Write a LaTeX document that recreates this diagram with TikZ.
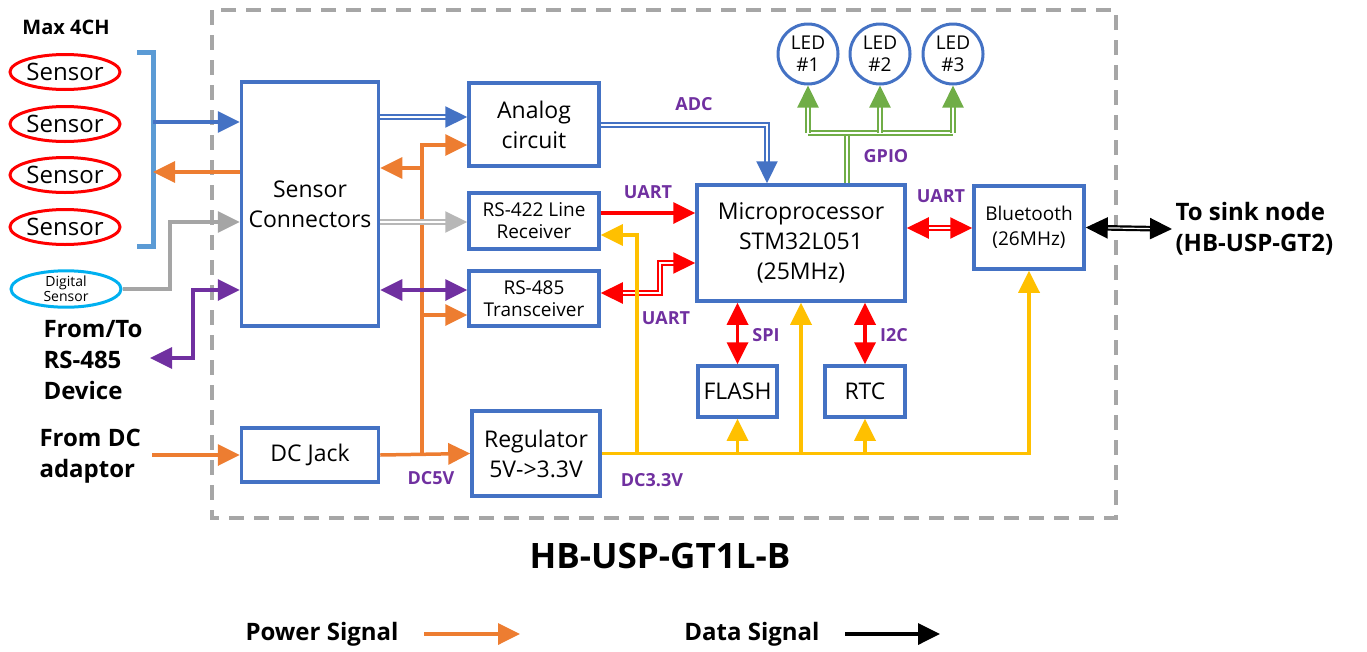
\documentclass[tikz,border=0pt]{standalone}
\usepackage{fontspec}
\setmainfont{Open Sans}
\usetikzlibrary{arrows.meta,shapes.geometric}

\definecolor{boxblue}{HTML}{4472C4}
\definecolor{brkblue}{HTML}{5B9BD5}
\definecolor{pwrorange}{HTML}{ED7D31}
\definecolor{pwryellow}{HTML}{FFC000}
\definecolor{gpiogreen}{HTML}{70AD47}
\definecolor{sigpurple}{HTML}{7030A0}
\definecolor{diggray}{HTML}{A5A5A5}
\definecolor{digcyan}{HTML}{00B0F0}
\definecolor{framegray}{HTML}{A6A6A6}

\newcommand{\fsz}[2]{\fontsize{#1}{#2}\selectfont}

\tikzset{
  blk/.style={draw=boxblue,line width=3.5pt,fill=white,align=center,inner sep=0pt,font=\fsz{23}{30}},
  sens/.style={draw=red,ellipse,line width=3pt,inner sep=0pt,minimum width=110pt,minimum height=35pt,font=\fsz{24}{28}},
  led/.style={draw=boxblue,circle,line width=3pt,inner sep=0pt,minimum size=60pt,align=center,font=\fsz{19}{22}},
  lbl/.style={text=sigpurple,font=\bfseries\fsz{18}{22}},
  txt/.style={align=left,font=\bfseries\fsz{24}{31}},
  wire/.style={line width=3.5pt},
  dbl/.style={double,double distance=1.2pt,line width=2.2pt},
  arr/.style={-{Triangle[length=22pt,width=21pt]}},
  darr/.style={{Triangle[length=22pt,width=21pt]}-{Triangle[length=22pt,width=21pt]}}
}

\begin{document}
\begin{tikzpicture}[x=1pt,y=-1pt]
\useasboundingbox (0,0) rectangle (1367,651);

% board outline
\draw[framegray,line width=3.5pt,dash pattern=on 15pt off 10pt] (212,10) rectangle (1116,518);

% sensors
\node[font=\bfseries\fsz{20}{24}] (maxch) at (66,27) {Max 4CH};
\foreach \y [count=\i] in {72,124,175,227}
  \node[sens] (s\i) at (65,\y) {Sensor};
\node[sens,draw=digcyan,align=center,font=\fsz{14}{15}] (dig) at (66,289) {Digital\\Sensor};
\draw[brkblue,line width=5pt] (137,52) -- (153,52) -- (153,246) -- (137,246);
\coordinate (brkin) at (153,122);
\coordinate (brkout) at (153,172);

% blocks
\node[blk,minimum width=137pt,minimum height=244pt] (con) at (310,204) {Sensor\\Connectors};
\node[blk,minimum width=130pt,minimum height=83pt] (analog) at (534,124.5) {Analog\\circuit};
\node[blk,minimum width=130pt,minimum height=56pt,font=\fsz{19}{22}] (rxa) at (534,221) {RS-422 Line\\Receiver};
\node[blk,minimum width=130pt,minimum height=55pt,font=\fsz{19}{22}] (trx) at (534,298.5) {RS-485\\Transceiver};
\node[blk,minimum width=208pt,minimum height=116pt] (mcu) at (801,243) {Microprocessor\\STM32L051\\(25MHz)};
\node[blk,minimum width=110pt,minimum height=83pt,font=\fsz{19}{25}] (bt) at (1029,227.5) {Bluetooth\\(26MHz)};
\node[blk,minimum width=79pt,minimum height=51pt] (flash) at (737.5,391.5) {FLASH};
\node[blk,minimum width=80pt,minimum height=51pt] (rtc) at (865,391.5) {RTC};
\node[blk,minimum width=137pt,minimum height=54pt] (jack) at (310,455) {DC Jack};
\node[blk,minimum width=128pt,minimum height=85pt] (reg) at (536,453.5) {Regulator\\5V->3.3V};
\foreach \x [count=\i] in {808,880,953}
  \node[led] (led\i) at (\x,54) {LED\\\#\i};

% outside texts
\node[txt,anchor=west] (rsdev) at (40,360) {From/To\\RS-485\\Device};
\node[txt,anchor=west] (dcin) at (36,456) {From DC\\adaptor};
\node[txt,anchor=west] (sink) at (1172,229) {To sink node\\(HB-USP-GT2)};
\coordinate (devend) at (150,358);

% sensor side
\draw[wire,arr,boxblue] (brkin) -- (brkin -| con.west);
\draw[wire,arr,pwrorange] (brkout -| con.west) -- (brkout);
\draw[wire,arr,diggray] (dig.east) -| (170,222) -- (con.west |- 0,222);
\draw[wire,darr,sigpurple] (devend) -| (193,290) -- (con.west |- 0,290);

% power 5V
\draw[wire,arr,pwrorange] (152,0 |- jack.west) -- (jack.west);
\draw[wire,arr,pwrorange] (jack.east) -- (reg.west);
\draw[wire,arr,pwrorange] (422,455) -- (422,145) -- (analog.west |- 0,145);
\draw[wire,arr,pwrorange] (422,168) -- (con.east |- 0,168);
\draw[wire,arr,pwrorange] (422,315) -- (trx.west |- 0,315);
\node[lbl] (dc5) at (431,478) {DC5V};

% connectors to front ends
\draw[dbl,arr,boxblue] (con.east |- 0,117) -- (analog.west |- 0,117);
\draw[dbl,arr,diggray!80] (con.east |- 0,222) -- (rxa.west |- 0,222);
\draw[wire,darr,sigpurple] (con.east |- 0,290) -- (trx.west |- 0,290);

% data to mcu
\draw[wire,arr,red] (rxa.east |- 0,213) -- (mcu.west |- 0,213);
\node[lbl] (uart1) at (648,192) {UART};
\draw[dbl,darr,red] (trx.east |- 0,293) -| (660,263) -- (mcu.west |- 0,263);
\node[lbl] (uart2) at (666,318) {UART};
\draw[dbl,arr,boxblue] (analog.east |- 0,125) -| (767,0 |- mcu.north);
\node[lbl] (adc) at (694,104) {ADC};
\draw[wire,darr,red] (mcu.south -| flash) -- (flash.north);
\node[lbl] (spi) at (766,335) {SPI};
\draw[wire,darr,red] (mcu.south -| rtc) -- (rtc.north);
\node[lbl] (i2c) at (894,335) {I2C};
\draw[dbl,darr,red] (mcu.east |- 0,228) -- (bt.west |- 0,228);
\node[lbl] (uart3) at (941,196) {UART};
\draw[dbl,darr,black] (bt.east) -- (sink.west);

% gpio
\draw[dbl,gpiogreen] (847,0 |- mcu.north) -- (847,133);
\draw[dbl,gpiogreen] (led1.south |- 0,133) -- (led3.south |- 0,133);
\foreach \i in {1,2,3}
  \draw[dbl,arr,gpiogreen] (led\i.south |- 0,133) -- (led\i.south);
\node[lbl] (gpio) at (886,156) {GPIO};

% power 3.3V
\draw[wire,arr,pwryellow] (reg.east) -| (bt.south);
\draw[wire,arr,pwryellow] (637,0 |- reg.east) |- (rxa.east |- 0,235);
\draw[wire,arr,pwryellow] (flash.south |- reg.east) -- (flash.south);
\draw[wire,arr,pwryellow] (mcu.south |- reg.east) -- (mcu.south);
\draw[wire,arr,pwryellow] (rtc.south |- reg.east) -- (rtc.south);
\node[lbl] (dc33) at (652,480) {DC3.3V};

% title and legend
\node[font=\bfseries\fsz{35}{40}] (title) at (660,556) {HB-USP-GT1L-B};
\node[font=\bfseries\fsz{24}{28}] (pwrsig) at (322,634) {Power Signal};
\coordinate (pwrend) at (520,634);
\draw[wire,arr,pwrorange] (424,634) -- (pwrend);
\node[font=\bfseries\fsz{24}{28}] (datsig) at (752,634) {Data Signal};
\coordinate (datend) at (940,634);
\draw[wire,arr,black] (845,634) -- (datend);
\end{tikzpicture}
\end{document}
